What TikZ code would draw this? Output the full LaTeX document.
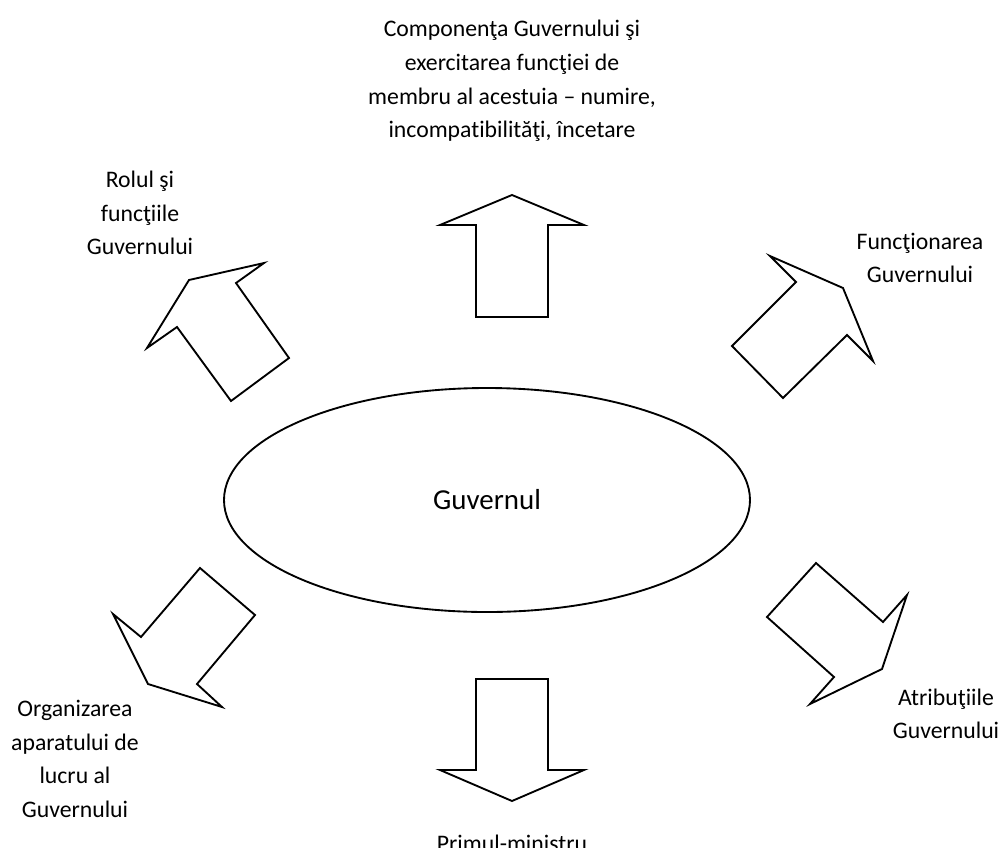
\documentclass[tikz,border=0pt]{standalone}
\usepackage{fontspec}
\usetikzlibrary{shapes.geometric}
\setmainfont{Carlito}[Ligatures={NoCommon}]
\begin{document}
\begin{tikzpicture}[x=0.75pt,y=-0.75pt,
  blockarrow/.style={draw=black,line width=1.4pt,line join=miter,fill=white},
  label/.style={align=center,font=\fontsize{17.8}{25.2}\selectfont,inner sep=0pt},
  hub/.style={draw=black,line width=1.4pt,ellipse,inner sep=0pt,minimum width=394.5pt,minimum height=168pt,
    font=\fontsize{21.7}{26}\selectfont}]
\useasboundingbox (0,0) rectangle (1000,847);

% central ellipse
\node[hub] (hub) at (487,500) {Guvernul};

% block arrows radiating from the ellipse
\draw[blockarrow] (512,195) -- (584,225) -- (548,225) -- (548,317) -- (476,317) -- (476,225) -- (440,225) -- cycle;
\draw[blockarrow] (512,801) -- (584,770) -- (548,770) -- (548,679) -- (476,679) -- (476,770) -- (440,770) -- cycle;
\draw[blockarrow] (264,263) -- (189,280) -- (147,348) -- (177,327) -- (231,401) -- (289,358) -- (236,283) -- cycle;
\draw[blockarrow] (770,256) -- (843,288) -- (873,361) -- (847,335) -- (783,398) -- (732,346) -- (796,282) -- cycle;
\draw[blockarrow] (200,568) -- (255,615) -- (197,684) -- (222,707) -- (148,684) -- (113,614) -- (141,637) -- cycle;
\draw[blockarrow] (816,563) -- (883,622) -- (907,595) -- (882,669) -- (810,704) -- (834,677) -- (767,617) -- cycle;

% labels
\node[label] (tcomp) at (512,81) {Componenţa Guvernului şi\\exercitarea funcţiei de\\membru al acestuia – numire,\\incompatibilităţi, încetare};
\node[label] (trol) at (140,213) {Rolul şi\\funcţiile\\Guvernului};
\node[label] (tfunc) at (920,258) {Funcţionarea\\Guvernului};
\node[label] (torg) at (75,759) {Organizarea\\aparatului de\\lucru al\\Guvernului};
\node[label] (tatr) at (946,714) {Atribuţiile\\Guvernului};
\node[label] (tprim) at (512,843) {Primul-ministru};
\end{tikzpicture}
\end{document}
